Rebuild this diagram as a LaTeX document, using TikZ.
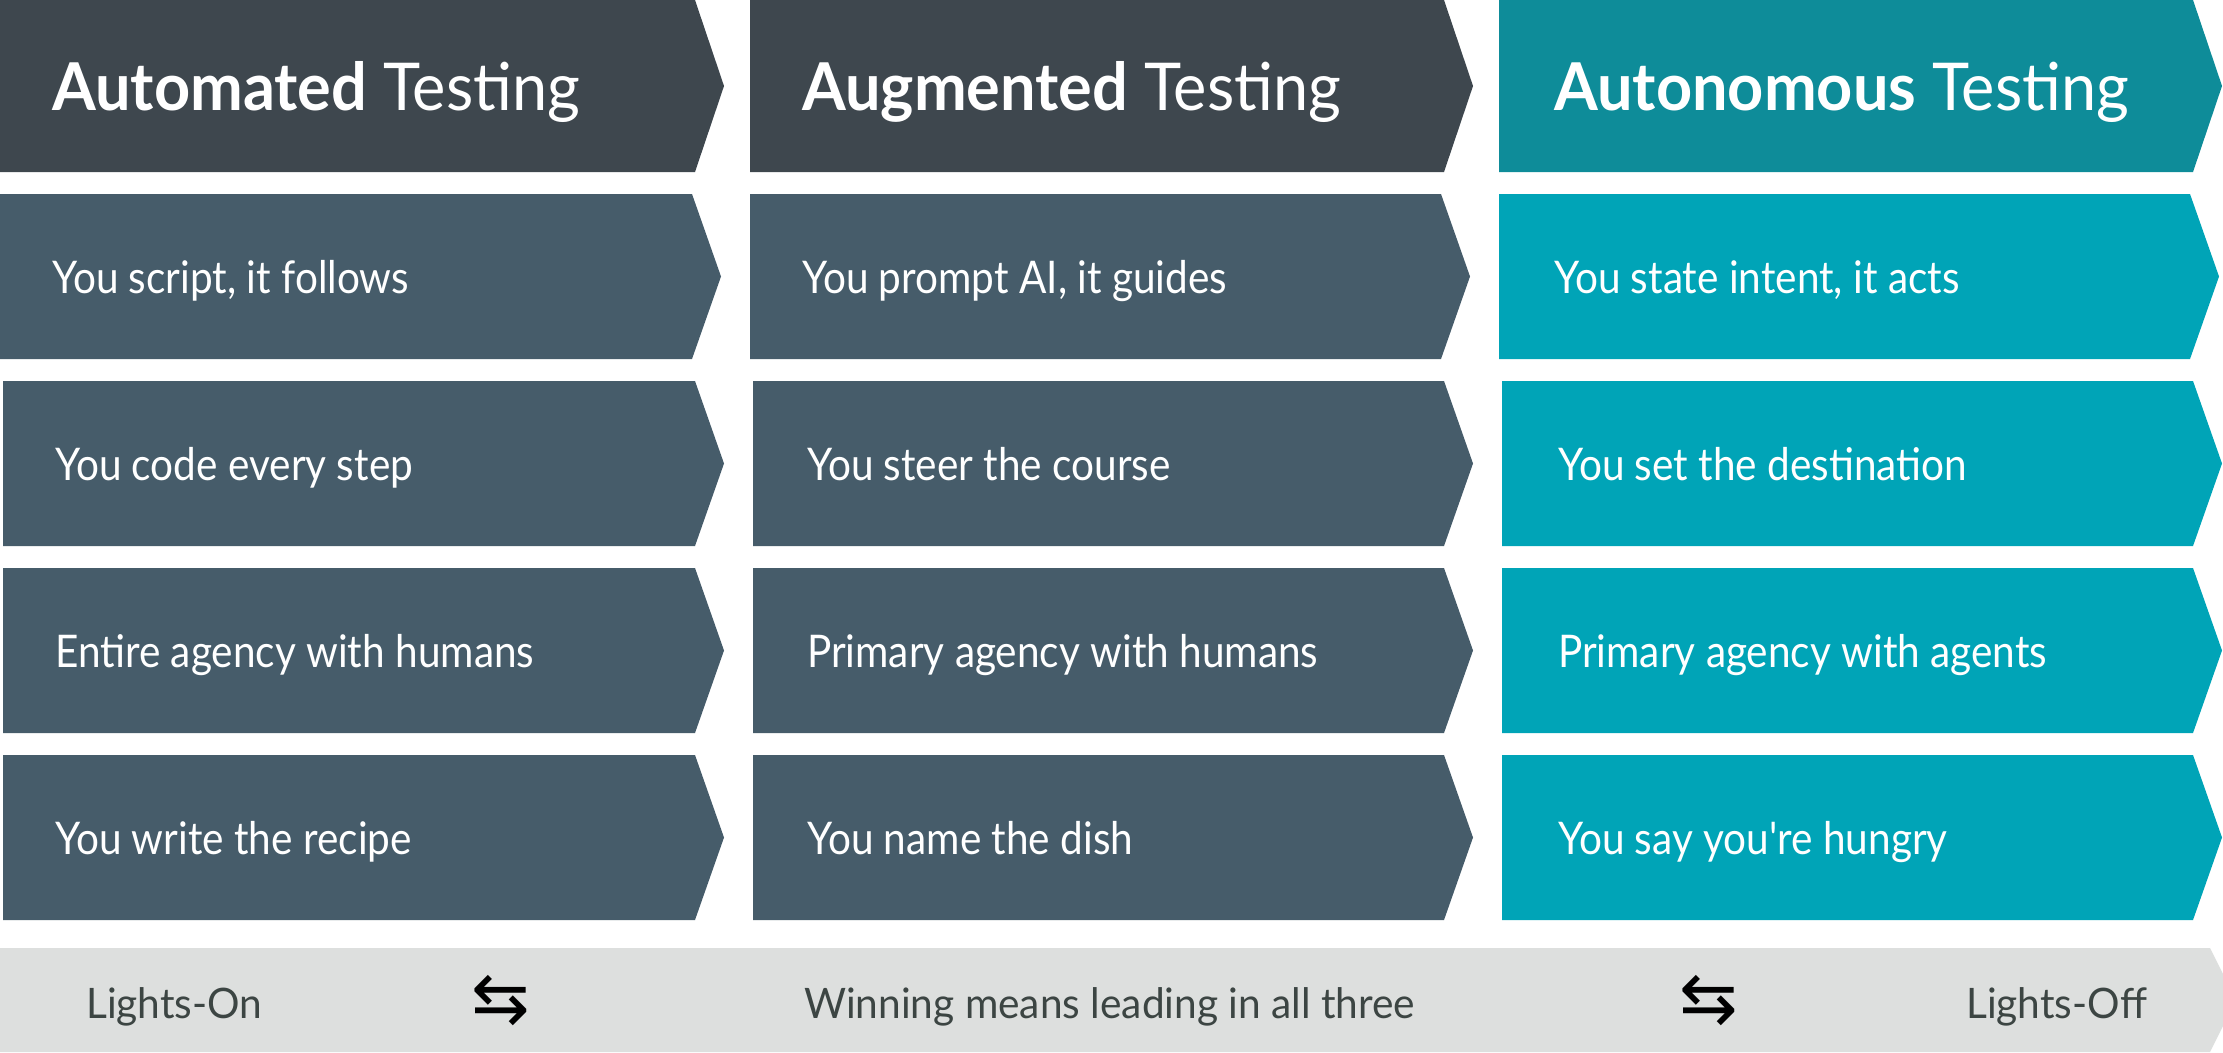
\documentclass[tikz,border=0pt]{standalone}
\usepackage{fontspec}
\setmainfont{Lato}
\newfontfamily\headfont{Lato}[FakeStretch=0.955, Ligatures=TeXOff]
\newfontfamily\rowfont{Lato}[FakeStretch=0.90, Ligatures=TeXOff]
\newfontfamily\barfont{Lato}[FakeStretch=0.967, Ligatures=TeXOff]
\newfontfamily\symfont{DejaVu Sans}
\definecolor{hdark}{HTML}{3E474E}
\definecolor{rdark}{HTML}{465C6A}
\definecolor{hteal}{HTML}{0E8C99}
\definecolor{rteal}{HTML}{00A4B7}
\definecolor{barcol}{HTML}{DDDFDE}
\definecolor{bartext}{HTML}{3C4543}
\newcommand{\chevbox}[5]{% x, ytop, width, height, colour
  \fill[#5] (#1,#2) -- ++(#3,0) -- ++(29,#4/2) -- ++(-29,#4/2) -- ++(-#3,0) -- cycle;}
\tikzset{
  headtxt/.style={anchor=base west, inner sep=0pt, text=white, font=\headfont\fontsize{66}{66}\selectfont},
  rowtxt/.style={anchor=base west, inner sep=0pt, text=white, font=\rowfont\fontsize{45}{45}\selectfont},
  bartxt/.style={anchor=base west, inner sep=0pt, text=bartext, font=\barfont\fontsize{42}{42}\selectfont},
  arrtxt/.style={anchor=center, inner sep=0pt, text=black, font=\symfont\fontsize{70}{70}\selectfont}
}
\begin{document}
\begin{tikzpicture}[x=1pt,y=-1pt]
\useasboundingbox (0,0) rectangle (2223,1052);
% headers
\chevbox{0}{0}{695}{172}{hdark}
\chevbox{750}{0}{694}{172}{hdark}
\chevbox{1499}{0}{694}{172}{hteal}
\node[headtxt] (h1) at (52,110) {\textbf{Automated} Testing};
\node[headtxt] (h2) at (802,110) {\textbf{Augmented} Testing};
\node[headtxt] (h3) at (1554,110) {\textbf{Autonomous} Testing};
% rows
\foreach \yt/\dx in {194/0,381/3,568/3,755/3}{
  \chevbox{0+\dx}{\yt}{692}{165}{rdark}
  \chevbox{750+\dx}{\yt}{691}{165}{rdark}
  \chevbox{1499+\dx}{\yt}{691}{165}{rteal}
}
\node[rowtxt] (r11) at (52,293) {You script, it follows};
\node[rowtxt] (r21) at (802,293) {You prompt AI, it guides};
\node[rowtxt] (r31) at (1554,293) {You state intent, it acts};
\node[rowtxt] (r12) at (55,480) {You code every step};
\node[rowtxt] (r22) at (807,480) {You steer the course};
\node[rowtxt] (r32) at (1558,480) {You set the destination};
\node[rowtxt] (r13) at (55,667) {Entire agency with humans};
\node[rowtxt] (r23) at (807,667) {Primary agency with humans};
\node[rowtxt] (r33) at (1558,667) {Primary agency with agents};
\node[rowtxt] (r14) at (55,854) {You write the recipe};
\node[rowtxt] (r24) at (807,854) {You name the dish};
\node[rowtxt] (r34) at (1558,854) {You say you're hungry};
% bottom bar
\fill[barcol] (0,948) -- (2210,948) -- (2236,1000) -- (2210,1052) -- (0,1052) -- cycle;
\node[bartxt] (lon) at (86,1018) {Lights-On};
\node[bartxt] (win) at (804,1018) {Winning means leading in all three};
\node[bartxt] (loff) at (1966,1018) {Lights-Off};
\node[arrtxt] (a1) at (501,1001) {⇆};
\node[arrtxt] (a2) at (1709,1001) {⇆};
\end{tikzpicture}
\end{document}
